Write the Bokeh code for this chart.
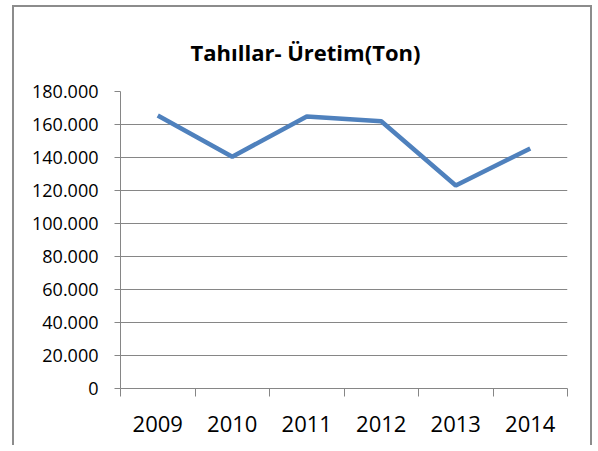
from bokeh.plotting import figure
from bokeh.models import Range1d, FixedTicker
from bokeh.embed import file_html
from bokeh.resources import INLINE

years = ["2009", "2010", "2011", "2012", "2013", "2014"]
production = [165500, 140500, 164800, 162000, 123000, 145500]
y_ticks = [0, 20000, 40000, 60000, 80000, 100000, 120000, 140000, 160000, 180000]

xs = [i + 0.5 for i in range(len(years))]

p = figure(width=580, height=440, output_backend="svg", toolbar_location=None,
           x_range=Range1d(0, len(years)), y_range=Range1d(0, 180000),
           min_border_left=106, min_border_right=27, min_border_top=84, min_border_bottom=59,
           title="Tahıllar- Üretim(Ton)")
p.styles = {"border-left": "2px solid #8c8c8c", "border-top": "2px solid #8c8c8c",
            "border-right": "2px solid #8c8c8c", "margin-left": "12px", "margin-top": "5px"}
p.outline_line_color = None
p.background_fill_color = "white"
p.border_fill_color = "white"

p.title.text_font = "Open Sans"
p.title.text_font_style = "bold"
p.title.text_font_size = "22px"
p.title.align = "left"
p.title.offset = 70
p.title.standoff = 50
p.title.text_color = "black"

p.line(xs, production, line_color="#4F81BD", line_width=4.5)

# x axis
p.xaxis.ticker = FixedTicker(ticks=xs, minor_ticks=list(range(len(years) + 1)))
p.xaxis.major_label_overrides = {x: y for x, y in zip(xs, years)}
p.xaxis.major_tick_out = 0
p.xaxis.major_tick_in = 0
p.xaxis.minor_tick_out = 8
p.xaxis.minor_tick_in = 0
p.xaxis.minor_tick_line_color = "#868686"
p.xaxis.axis_line_color = "#868686"
p.xaxis.major_label_text_font = "Open Sans"
p.xaxis.major_label_text_font_size = "22px"
p.xaxis.major_label_text_color = "black"
p.xaxis.major_label_standoff = 19

# y axis
p.yaxis.ticker = FixedTicker(ticks=y_ticks, minor_ticks=[])
p.yaxis.major_label_overrides = {v: f"{v:,}".replace(",", ".") for v in y_ticks}
p.yaxis.major_tick_out = 6
p.yaxis.major_tick_in = 0
p.yaxis.major_tick_line_color = "#868686"
p.yaxis.axis_line_color = "#868686"
p.yaxis.major_label_text_font = "Open Sans"
p.yaxis.major_label_text_font_size = "18px"
p.yaxis.major_label_text_color = "black"
p.yaxis.major_label_standoff = 16

p.xgrid.grid_line_color = None
p.ygrid.ticker = FixedTicker(ticks=y_ticks)
p.ygrid.grid_line_color = "#868686"
p.ygrid.grid_line_width = 1

open("out.html", "w").write(file_html(p, INLINE))
